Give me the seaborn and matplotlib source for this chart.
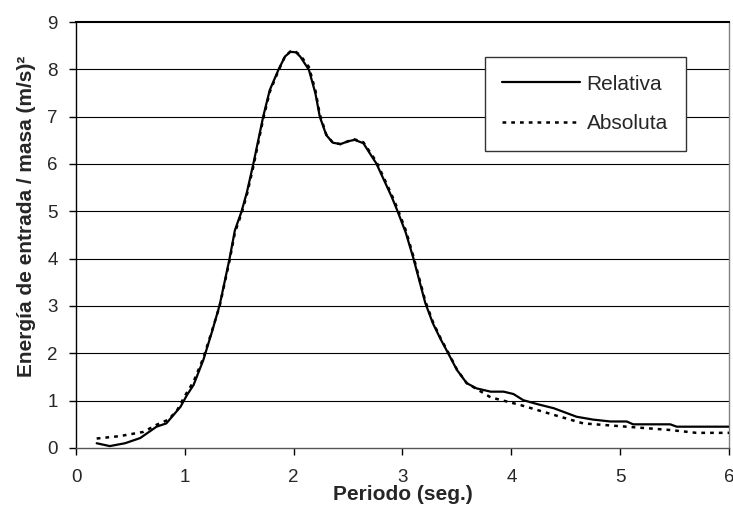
import matplotlib
matplotlib.use("Agg")
import matplotlib.pyplot as plt
import numpy as np
import pandas as pd
import seaborn as sns

# Relativa curve
rel_x = [0.19, 0.31, 0.45, 0.59, 0.74, 0.83, 0.96, 1.02, 1.08, 1.17, 1.25, 1.32, 1.41, 1.46,
         1.52, 1.57, 1.63, 1.72, 1.78, 1.86, 1.92, 1.97, 2.02, 2.06, 2.14, 2.20, 2.24, 2.30,
         2.36, 2.43, 2.50, 2.56, 2.64, 2.76, 2.90, 2.95, 3.03, 3.10, 3.21, 3.28, 3.35, 3.42,
         3.50, 3.59, 3.68, 3.81, 3.93, 4.02, 4.11, 4.25, 4.39, 4.60, 4.75, 4.91, 5.06, 5.12,
         5.46, 5.52, 6.00]
rel_y = [0.10, 0.04, 0.10, 0.21, 0.45, 0.52, 0.87, 1.12, 1.33, 1.86, 2.46, 3.02, 3.99, 4.60,
         4.99, 5.40, 6.01, 7.00, 7.56, 7.99, 8.27, 8.37, 8.36, 8.27, 7.99, 7.49, 7.00, 6.61,
         6.45, 6.42, 6.48, 6.51, 6.44, 6.01, 5.31, 5.03, 4.55, 4.01, 3.06, 2.63, 2.30, 2.00,
         1.65, 1.37, 1.26, 1.19, 1.19, 1.14, 1.01, 0.92, 0.84, 0.66, 0.60, 0.56, 0.56, 0.50,
         0.50, 0.45, 0.45]

# Absoluta curve
abs_x = [0.19, 0.40, 0.62, 0.74, 0.85, 0.93, 1.00, 1.08, 1.17, 1.25, 1.32, 1.41, 1.46, 1.52,
         1.57, 1.63, 1.72, 1.78, 1.86, 1.92, 1.97, 2.02, 2.06, 2.14, 2.20, 2.24, 2.30, 2.36,
         2.43, 2.50, 2.56, 2.64, 2.76, 2.90, 2.95, 3.03, 3.10, 3.21, 3.28, 3.35, 3.42, 3.50,
         3.59, 3.81, 4.08, 4.39, 4.66, 5.00, 5.46, 5.70, 6.00]
abs_y = [0.20, 0.25, 0.34, 0.49, 0.60, 0.80, 1.10, 1.40, 1.90, 2.48, 3.00, 3.95, 4.55, 4.95,
         5.35, 5.95, 6.95, 7.52, 7.97, 8.27, 8.38, 8.37, 8.30, 8.05, 7.55, 7.05, 6.62, 6.45,
         6.42, 6.48, 6.52, 6.46, 6.05, 5.35, 5.08, 4.60, 4.05, 3.10, 2.66, 2.32, 2.02, 1.66,
         1.37, 1.07, 0.91, 0.70, 0.52, 0.46, 0.38, 0.32, 0.32]

x_ticks = [0, 1, 2, 3, 4, 5, 6]
y_ticks = [0, 1, 2, 3, 4, 5, 6, 7, 8, 9]

sns.set_style("white")
plt.rcParams['font.family'] = ['Liberation Sans', 'DejaVu Sans']

fig = plt.figure(figsize=(7.33, 5.07), dpi=100)
ax = fig.add_axes([0.1037, 0.1164, 0.8908, 0.8402])

rel = pd.DataFrame({'x': rel_x, 'y': rel_y})
absl = pd.DataFrame({'x': abs_x, 'y': abs_y})
sns.lineplot(data=rel, x='x', y='y', ax=ax, color='black', linewidth=1.6,
             sort=False, label='Relativa', zorder=3)
sns.lineplot(data=absl, x='x', y='y', ax=ax, color='black', linewidth=1.8,
             linestyle=(0, (1.5, 2.0)), sort=False, label='Absoluta', zorder=4)

ax.set_xlim(0, 6)
ax.set_ylim(0, 9)
ax.set_xticks(x_ticks)
ax.set_yticks(y_ticks)
ax.tick_params(axis='both', labelsize=13.5, direction='out', length=5, width=1,
               color='black', bottom=True, left=True)
ax.tick_params(axis='x', pad=10)
ax.tick_params(axis='y', pad=8)
for yv in y_ticks[1:-1]:
    ax.axhline(yv, color='black', linewidth=0.8, zorder=1)

ax.spines['left'].set_color('black')
ax.spines['left'].set_linewidth(1.0)
ax.spines['bottom'].set_color('#555555')
ax.spines['bottom'].set_linewidth(1.0)
ax.spines['top'].set_color('black')
ax.spines['top'].set_linewidth(1.5)
ax.spines['right'].set_color('#808080')
ax.spines['right'].set_linewidth(1.0)

ax.set_xlabel('Periodo (seg.)', fontsize=15, fontweight='bold')
ax.xaxis.set_label_coords(0.5, -0.088)
ax.set_ylabel('Energía de entrada / masa (m/s)²', fontsize=15, fontweight='bold')
ax.yaxis.set_label_coords(-0.062, 0.545)

leg = ax.legend(loc='upper left', bbox_to_anchor=(0.626, 0.918), fontsize=15,
                frameon=True, fancybox=False, shadow=False, handlelength=3.7,
                labelspacing=1.0, borderpad=0.85, handletextpad=0.34, borderaxespad=0)
leg.get_frame().set_edgecolor('#333333')
leg.get_frame().set_linewidth(1.0)
leg.get_frame().set_facecolor('white')
leg.get_frame().set_alpha(1)

fig.savefig('out.png', dpi=100)
